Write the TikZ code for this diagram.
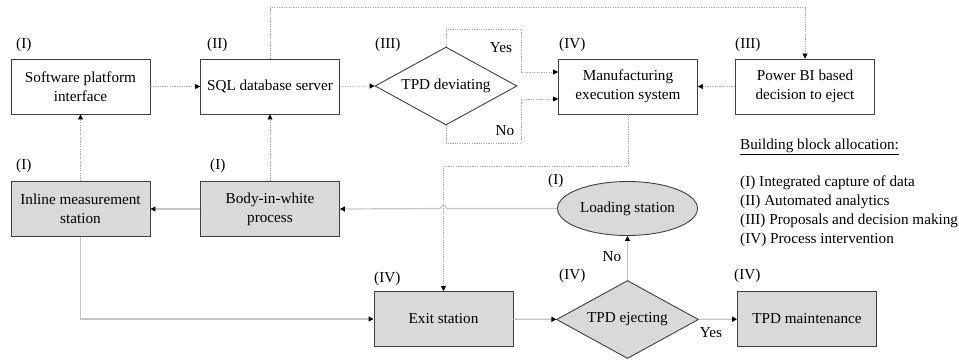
\documentclass[tikz,border=0pt]{standalone}
\usepackage{fontspec}
\setmainfont{Liberation Serif}
\usepackage{tikz}
\usetikzlibrary{arrows.meta,shapes.geometric}
\definecolor{boxfill}{HTML}{D9D9D9}
\definecolor{boxline}{HTML}{404040}
\definecolor{flowline}{HTML}{C6C6C6}
\definecolor{infoline}{HTML}{A6A6A6}

\begin{document}
\begin{tikzpicture}[x=1pt, y=-1pt,
  every node/.style={font=\fontsize{15.2pt}{19pt}\selectfont},
  blk/.style={draw=boxline, line width=0.9pt, minimum width=139pt, minimum height=55pt, align=center, inner sep=2pt},
  phys/.style={blk, fill=boxfill},
  dec/.style={diamond, draw=boxline, line width=0.9pt, minimum width=142pt, minimum height=78pt, inner sep=0pt, aspect=1.8},
  tag/.style={anchor=west, inner sep=0pt},
  info/.style={draw=infoline, line width=0.7pt, dash pattern=on 1.2pt off 1.2pt, -{Triangle[length=5pt,width=5pt,color=black]}},
  flow/.style={draw=flowline, line width=1.2pt, -{Triangle[length=5pt,width=5pt,color=black]}}
]
\useasboundingbox (0,0) rectangle (959,360);

\node[blk] (sw) at (80.5,86.5) {Software platform\\interface};
\node[blk] (sql) at (270,86.5) {SQL database server};
\node[dec] (dev) at (446,86) {TPD deviating};
\node[blk] (mes) at (628,86.5) {Manufacturing\\execution system};
\node[blk] (pbi) at (805,86.5) {Power BI based\\decision to eject};

\node[phys] (ims) at (80.5,209) {Inline measurement\\station};
\node[phys] (biw) at (270,209) {Body-in-white\\process};
\node[ellipse, draw=boxline, line width=0.9pt, fill=boxfill, minimum width=140pt, minimum height=54pt, inner sep=0pt] (load) at (627.5,208.5) {Loading station};

\node[phys] (exit) at (443.5,319) {Exit station};
\node[dec, fill=boxfill] (ej) at (627.5,319.5) {TPD ejecting};
\node[phys] (maint) at (807,319) {TPD maintenance};

\node[tag] (t1) at (16,44.5) {(I)};
\node[tag] (t2) at (207,44.5) {(II)};
\node[tag] (t3) at (375,44.5) {(III)};
\node[tag] (t4) at (559,44.5) {(IV)};
\node[tag] (t5) at (735,44.5) {(III)};
\node[tag] (t6) at (16,166) {(I)};
\node[tag] (t7) at (210,166) {(I)};
\node[tag] (t8) at (548,181) {(I)};
\node[tag] (t9) at (374,279) {(IV)};
\node[tag] (t10) at (559,276) {(IV)};
\node[tag] (t11) at (734,276) {(IV)};

\node (yes1) at (501,48) {Yes};
\node (no1) at (505,131) {No};
\node (no2) at (612,257) {No};
\node (yes2) at (711,333) {Yes};

\node[anchor=north west, inner sep=0pt, align=left] (legend) at (740,139)
  {\underline{Building block allocation:}\\[18pt]
   (I) Integrated capture of data\\
   (II) Automated analytics\\
   (III) Proposals and decision making\\
   (IV) Process intervention};

\coordinate (hop) at (exit.north |- load.west);

\draw[info] (sw) -- (sql);
\draw[info] (sql.east) -- (dev.west);
\draw[info] (sql.north) -- ++(0,-51) -| (pbi.north);
\draw[info] (dev.north) |- (521,29) |- ([yshift=14.5pt]mes.west);
\draw[info] (dev.south) |- (521,143) |- ([yshift=-12.5pt]mes.west);
\draw[info] (pbi) -- (mes);
\draw[info] (ims) -- (sw);
\draw[info] (biw) -- (sql);
\draw[info] (mes.south) -- ++(0,52) -| (exit.north);

\draw[flow] (load.west) -- ([xshift=3pt]hop) arc[start angle=0, end angle=180, radius=3pt] -- (biw.east);
\draw[flow] (biw) -- (ims);
\draw[flow] (ims.south) |- (exit.west);
\draw[flow] (exit) -- (ej);
\draw[flow] (ej) -- (load);
\draw[flow] (ej) -- (maint);
\end{tikzpicture}
\end{document}
